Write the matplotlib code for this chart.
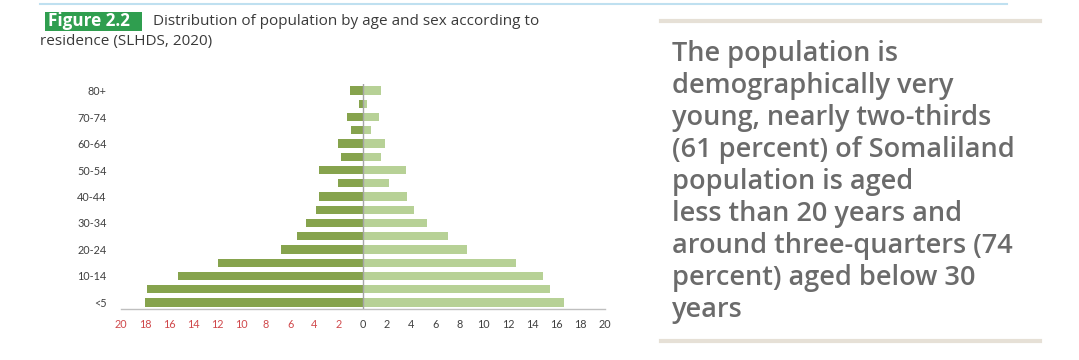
import matplotlib
matplotlib.use("Agg")
import matplotlib.pyplot as plt
from matplotlib.patches import Rectangle
from matplotlib.lines import Line2D

# Data (percent), ordered from youngest to oldest
age_groups = ["<5", "5-9", "10-14", "15-19", "20-24", "25-29", "30-34", "35-39",
              "40-44", "45-49", "50-54", "55-59", "60-64", "65-69", "70-74", "75-79", "80+"]
male = [18.0, 17.8, 15.3, 11.95, 6.75, 5.45, 4.7, 3.9, 3.6, 2.05, 3.6, 1.8, 2.05, 0.95, 1.3, 0.3, 1.05]
female = [16.6, 15.5, 14.9, 12.65, 8.6, 7.05, 5.3, 4.25, 3.7, 2.15, 3.6, 1.55, 1.85, 0.65, 1.35, 0.35, 1.5]
xticks = list(range(-20, 21, 2))
xtick_labels = [str(abs(v)) for v in xticks]
shown_age_labels = ["<5", "10-14", "20-24", "30-34", "40-44", "50-54", "60-64", "70-74", "80+"]

title_tag = "Figure 2.2"
title_line1 = "Distribution of population by age and sex according to"
title_line2 = "residence (SLHDS, 2020)"
side_text = ("The population is\ndemographically very\nyoung, nearly two-thirds\n"
             "(61 percent) of Somaliland\npopulation is aged\nless than 20 years and\n"
             "around three-quarters (74\npercent) aged below 30\nyears")

W, H = 1079, 360
fig = plt.figure(figsize=(W / 100, H / 100), dpi=100)
fig.patch.set_facecolor("white")

ax = fig.add_axes([120.7 / W, 51 / H, 484 / W, 225 / H])
ypos = list(range(len(age_groups)))
ax.barh(ypos, [-m for m in male], height=0.63, color="#86a34d", zorder=2)
ax.barh(ypos, female, height=0.63, color="#b7d196", zorder=2)
ax.set_xlim(-20, 20)
ax.set_ylim(-0.5, len(age_groups) - 0.5)
ax.axvline(0, color="#a6a6a6", lw=1.0, zorder=3)
for s in ["top", "right", "left"]:
    ax.spines[s].set_visible(False)
ax.spines["bottom"].set_color("#bfbfbf")
ax.spines["bottom"].set_linewidth(1.0)

ax.set_xticks(xticks)
ax.set_xticklabels(xtick_labels, fontsize=7.8, family="Lato")
for v, lab in zip(xticks, ax.get_xticklabels()):
    lab.set_color("#d0484b" if v < 0 else "#404040")
ax.tick_params(axis="x", length=0, pad=7)

yt = [age_groups.index(a) for a in shown_age_labels]
ax.set_yticks(yt)
ax.set_yticklabels(shown_age_labels, fontsize=7.8, family="Lato", color="#404040")
ax.tick_params(axis="y", length=0, pad=10)

# Header
fig.add_artist(Line2D([40 / W, 1007 / W], [1 - 3.5 / H, 1 - 3.5 / H], color="#bfe0f0", lw=1.5))
fig.add_artist(Rectangle((45 / W, 1 - 31 / H), 97 / W, 19 / H, color="#2f9e4f", lw=0))
fig.text(48 / W, 1 - 21.5 / H, title_tag, color="white", fontsize=12.3, fontweight="bold",
         family="Open Sans", va="center", ha="left")
fig.text(153 / W, 1 - 21.5 / H, title_line1, color="#3a3a3a", fontsize=11,
         family="Open Sans", va="center", ha="left")
fig.text(40 / W, 1 - 42 / H, title_line2, color="#3a3a3a", fontsize=11,
         family="Open Sans", va="center", ha="left")

# Side panel
fig.add_artist(Line2D([661 / W, 1040 / W], [1 - 21 / H, 1 - 21 / H], color="#e6e0d6", lw=3))
fig.add_artist(Line2D([661 / W, 1040 / W], [1 - 341 / H, 1 - 341 / H], color="#e6e0d6", lw=3))
fig.text(672 / W, 1 - 40 / H, side_text, color="#6b6b6b", fontsize=19.5, fontweight="semibold",
         family="Open Sans", va="top", ha="left", linespacing=1.19)

fig.savefig("out.png", dpi=100, facecolor="white")
